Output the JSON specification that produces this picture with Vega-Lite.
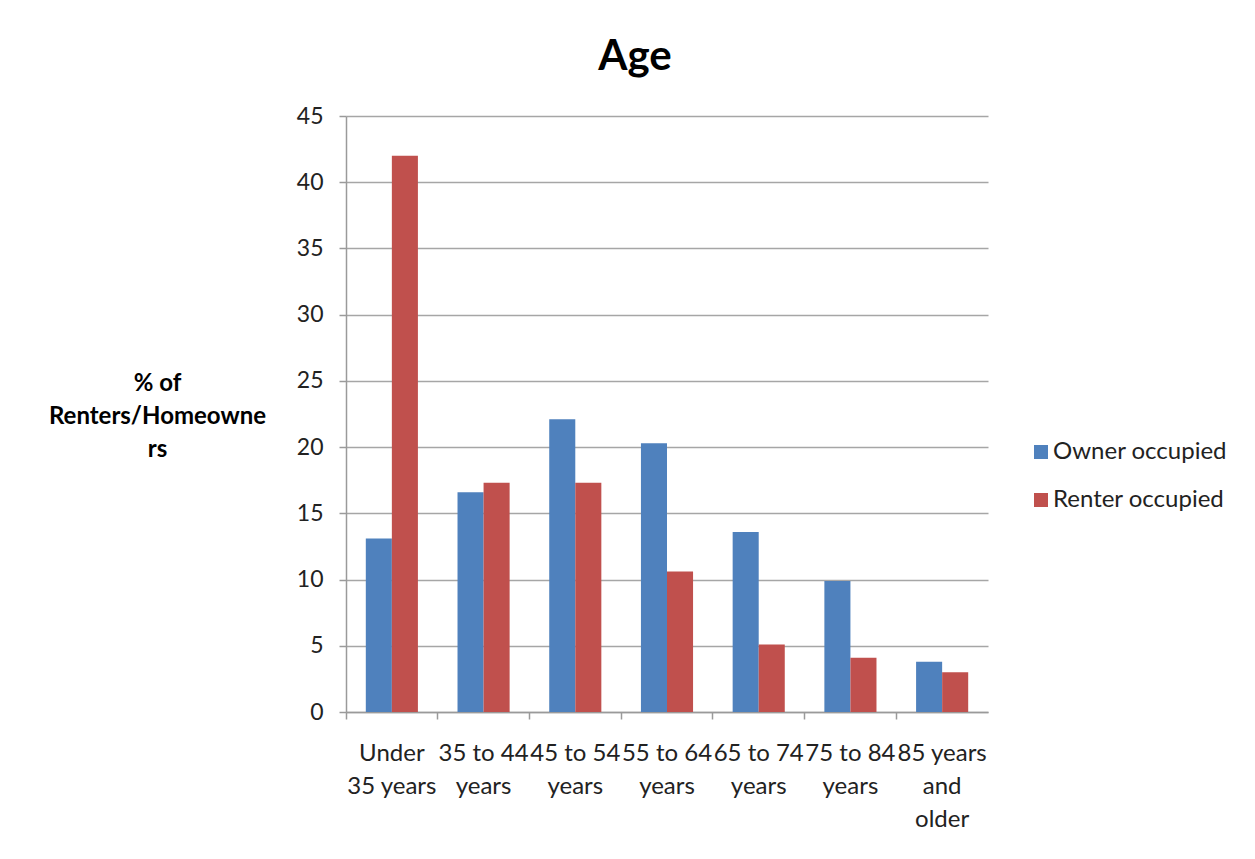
{
  "$schema": "https://vega.github.io/schema/vega-lite/v6.json",
  "autosize": {"type": "none"},
  "padding": {"left": 346, "top": 116, "right": 267, "bottom": 147},
  "width": 642,
  "height": 596,
  "background": "white",
  "title": {
    "text": "Age",
    "font": "Lato",
    "fontSize": 42,
    "fontWeight": "bold",
    "color": "black",
    "anchor": "middle",
    "dx": -32,
    "offset": 26
  },
  "data": {
    "values": [
      {"age": "Under 35 years", "tenure": "Owner occupied", "pct": 13.1},
      {"age": "Under 35 years", "tenure": "Renter occupied", "pct": 42.0},
      {"age": "35 to 44 years", "tenure": "Owner occupied", "pct": 16.6},
      {"age": "35 to 44 years", "tenure": "Renter occupied", "pct": 17.3},
      {"age": "45 to 54 years", "tenure": "Owner occupied", "pct": 22.1},
      {"age": "45 to 54 years", "tenure": "Renter occupied", "pct": 17.3},
      {"age": "55 to 64 years", "tenure": "Owner occupied", "pct": 20.3},
      {"age": "55 to 64 years", "tenure": "Renter occupied", "pct": 10.6},
      {"age": "65 to 74 years", "tenure": "Owner occupied", "pct": 13.6},
      {"age": "65 to 74 years", "tenure": "Renter occupied", "pct": 5.1},
      {"age": "75 to 84 years", "tenure": "Owner occupied", "pct": 9.9},
      {"age": "75 to 84 years", "tenure": "Renter occupied", "pct": 4.1},
      {"age": "85 years and older", "tenure": "Owner occupied", "pct": 3.8},
      {"age": "85 years and older", "tenure": "Renter occupied", "pct": 3.0}
    ]
  },
  "mark": {"type": "bar"},
  "encoding": {
    "x": {
      "field": "age",
      "type": "nominal",
      "sort": null,
      "scale": {"paddingInner": 0, "paddingOuter": 0},
      "axis": {
        "title": null,
        "labelAngle": 0,
        "bandPosition": 0,
        "labelAlign": "center",
        "labelBaseline": "top",
        "labelFont": "Lato",
        "labelFontSize": 24,
        "labelColor": "#222222",
        "labelLineHeight": 33,
        "labelPadding": 22,
        "labelOffset": 0,
        "tickSize": 7,
        "tickColor": "#9a9a9a",
        "tickWidth": 1.5,
        "domainColor": "#9a9a9a",
        "domainWidth": 1.5,
        "labelExpr": "datum.value == 'Under 35 years' ? ['Under', '35 years'] : datum.value == '85 years and older' ? ['85 years', 'and', 'older'] : [slice(datum.value, 0, 8), 'years']"
      }
    },
    "xOffset": {
      "field": "tenure",
      "type": "nominal",
      "scale": {"paddingInner": 0, "paddingOuter": 0.76}
    },
    "y": {
      "field": "pct",
      "type": "quantitative",
      "scale": {"domain": [0, 45]},
      "axis": {
        "values": [0, 5, 10, 15, 20, 25, 30, 35, 40, 45],
        "title": ["% of", "Renters/Homeowne", "rs"],
        "titleAngle": 0,
        "titleFont": "Lato",
        "titleFontSize": 24,
        "titleFontWeight": "bold",
        "titleColor": "black",
        "titleAlign": "center",
        "titleBaseline": "middle",
        "titleLineHeight": 33,
        "titleX": -189,
        "titleY": 267,
        "labelFont": "Lato",
        "labelFontSize": 23,
        "labelColor": "#222222",
        "labelPadding": 16,
        "tickSize": 7,
        "tickColor": "#9a9a9a",
        "tickWidth": 1.5,
        "domainColor": "#9a9a9a",
        "domainWidth": 1.5,
        "grid": true,
        "gridColor": "#a6a6a6",
        "gridWidth": 1.5
      }
    },
    "color": {
      "field": "tenure",
      "type": "nominal",
      "scale": {"domain": ["Owner occupied", "Renter occupied"], "range": ["#4F81BD", "#C0504D"]},
      "legend": {
        "title": null,
        "orient": "none",
        "legendX": 683,
        "legendY": 324,
        "symbolType": "square",
        "symbolSize": 196,
        "symbolStrokeWidth": 0,
        "labelFont": "Lato",
        "labelFontSize": 24,
        "labelColor": "#222222",
        "labelLimit": 300,
        "labelOffset": 0,
        "rowPadding": 24
      }
    }
  },
  "config": {
    "view": {"stroke": null}
  }
}
